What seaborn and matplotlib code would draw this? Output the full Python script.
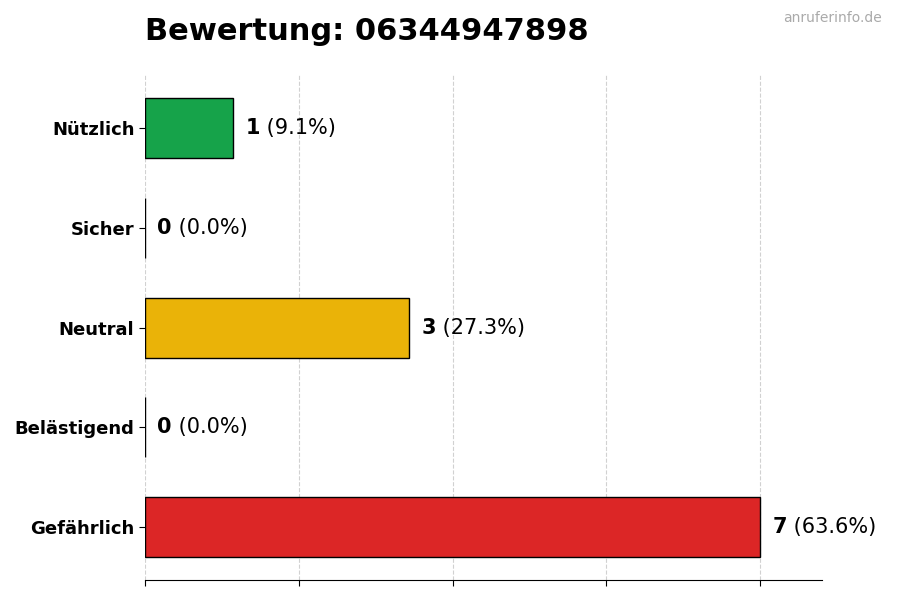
import matplotlib
matplotlib.use("Agg")
import matplotlib.pyplot as plt
import seaborn as sns
import pandas as pd

categories = ["Nützlich", "Sicher", "Neutral", "Belästigend", "Gefährlich"]
counts = [1, 0, 3, 0, 7]
percents = [9.1, 0.0, 27.3, 0.0, 63.6]
colors = ["#16a34a", "#9ca3af", "#eab308", "#f97316", "#dc2626"]
title = "Bewertung: 06344947898"
watermark = "anruferinfo.de"

sns.set_style("white")
plt.rcParams["font.family"] = ["DejaVu Sans"]
plt.rcParams["text.color"] = "black"
plt.rcParams["axes.labelcolor"] = "black"
plt.rcParams["xtick.color"] = "black"
plt.rcParams["ytick.color"] = "black"

df = pd.DataFrame({"Kategorie": categories, "Anzahl": counts})

fig, ax = plt.subplots(figsize=(9, 6), dpi=100)
fig.subplots_adjust(left=0.161, right=0.913, top=0.875, bottom=0.033)

sns.barplot(data=df, y="Kategorie", x="Anzahl", hue="Kategorie",
            palette=dict(zip(categories, colors)), orient="h",
            width=0.6, edgecolor="black", linewidth=1, legend=False,
            saturation=1, ax=ax)

ax.set_xlim(0, 7.7)
ax.set_ylim(4.53, -0.53)
ax.set_xticks([0, 1.75, 3.5, 5.25, 7])
ax.set_xticklabels([])
ax.set_xlabel("")
ax.set_ylabel("")
ax.grid(axis="x", linestyle="--", color="#cccccc", linewidth=0.8, alpha=0.9)
ax.set_axisbelow(True)
for s in ["top", "right", "left"]:
    ax.spines[s].set_visible(False)
ax.spines["bottom"].set_color("black")
ax.tick_params(axis="both", which="both", length=4, color="black",
               labelcolor="black", left=True, bottom=True)
for lbl in ax.get_yticklabels():
    lbl.set_fontweight("bold")
    lbl.set_fontsize(13)

fig.canvas.draw()
renderer = fig.canvas.get_renderer()
for i, (c, p) in enumerate(zip(counts, percents)):
    t1 = ax.annotate(f"{c}", xy=(c, i), xytext=(9, 0), textcoords="offset points",
                     ha="left", va="center", fontsize=15, fontweight="bold", color="black")
    bb = t1.get_window_extent(renderer)
    w_pts = bb.width * 72 / fig.dpi
    ax.annotate(f" ({p:.1f}%)", xy=(c, i), xytext=(9 + w_pts, 0), textcoords="offset points",
                ha="left", va="center", fontsize=15, color="black")

fig.text(0.161, 0.948, title, fontsize=22, fontweight="bold", ha="left", va="center", color="black")
fig.text(0.98, 0.97, watermark, fontsize=10, color="#aaaaaa", ha="right", va="center")

fig.savefig("out.png", dpi=100)
